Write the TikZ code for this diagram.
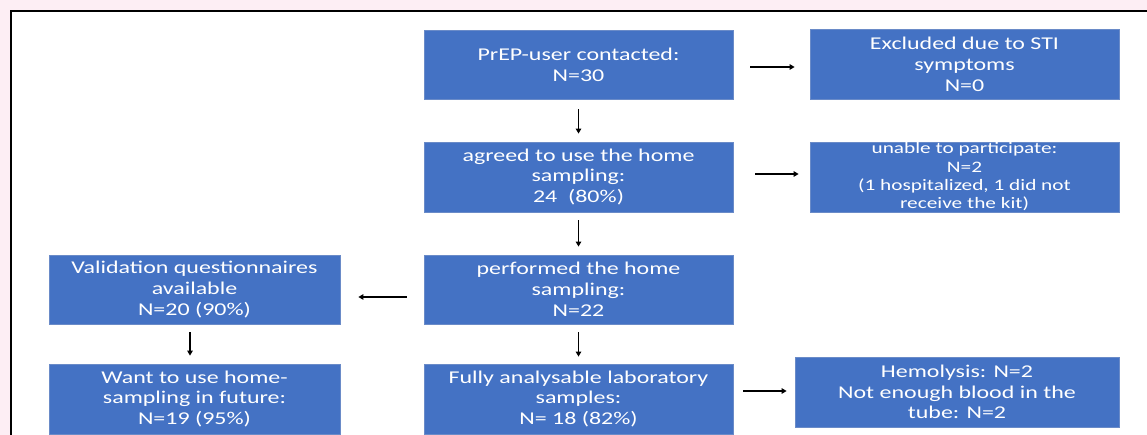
\documentclass[tikz,border=0pt]{standalone}
\usepackage{fontspec}
\newfontfamily\boxfont[FakeStretch=1.33]{Carlito}
\usetikzlibrary{arrows.meta}
\definecolor{bgpink}{HTML}{FDEEF4}
\definecolor{boxblue}{HTML}{4472C4}
\definecolor{boxedge}{HTML}{6A8BC8}
\begin{document}
\begin{tikzpicture}[x=1pt,y=1pt,
  box/.style={fill=boxblue, draw=boxedge, line width=0.8pt, text=white, align=center,
    inner sep=0pt, font=\boxfont\fontsize{18}{20.8}\selectfont},
  smalltext/.style={font=\boxfont\fontsize{16}{18.3}\selectfont},
  arr/.style={-{Triangle[length=5pt,width=5.5pt]}, line width=1.5pt, black}]
\useasboundingbox (0,0) rectangle (1147,435);
\fill[bgpink] (0,0) rectangle (1147,435);
\draw[line width=2pt, fill=white] (11,424) rectangle (1170,-20);

\node[box, minimum width=309pt, minimum height=69pt] (prep) at (578.5,370.5) {PrEP-user contacted:\\N=30};
\node[box, minimum width=309pt, minimum height=70pt] (excl) at (964.5,370.5) {Excluded due to STI\\symptoms\\N=0};
\node[box, minimum width=309pt, minimum height=70pt] (agreed) at (578.5,258) {agreed to use the home\\sampling:\\24\ \ (80\%)};
\node[box, smalltext, minimum width=309pt, minimum height=70pt] (unable) at (964.5,258) {unable to participate:\\N=2\\(1 hospitalized, 1 did not\\receive the kit)};
\node[box, minimum width=309pt, minimum height=69pt] (performed) at (578.5,145.5) {performed the home\\sampling:\\N=22};
\node[box, minimum width=291pt, minimum height=69pt] (valid) at (194.5,145.5) {Validation questionnaires\\available\\N=20 (90\%)};
\node[box, minimum width=309pt, minimum height=70pt] (fully) at (578.5,36) {Fully analysable laboratory\\samples:\\N= 18 (82\%)};
\node[box, minimum width=291pt, minimum height=70pt] (want) at (194.5,36) {Want to use home-\\sampling in future:\\N=19 (95\%)};
\node[box, minimum width=324pt, minimum height=70pt] (hemo) at (957,43) {Hemolysis: N=2\\Not enough blood in the\\tube: N=2};

\draw[arr, shorten <=17pt, shorten >=15pt] ([yshift=-2.5pt]prep.east) -- ([yshift=-2.5pt]excl.west);
\draw[arr, shorten <=22pt, shorten >=11pt] ([yshift=3pt]agreed.east) -- ([yshift=3pt]unable.west);
\draw[arr, shorten <=10pt, shorten >=8pt] (prep) -- (agreed);
\draw[arr, shorten <=8pt, shorten >=8pt] (agreed) -- (performed);
\draw[arr, shorten <=17pt, shorten >=18pt] ([yshift=-7.5pt]performed.west) -- ([yshift=-7.5pt]valid.east);
\draw[arr, shorten <=8pt, shorten >=8pt] ([xshift=-4.5pt]valid.south) -- ([xshift=-4.5pt]want.north);
\draw[arr, shorten <=8pt, shorten >=7pt] (performed) -- (fully);
\draw[arr, shorten <=10pt, shorten >=8pt] ([yshift=8pt]fully.east) -- ([yshift=1pt]hemo.west);
\end{tikzpicture}
\end{document}
